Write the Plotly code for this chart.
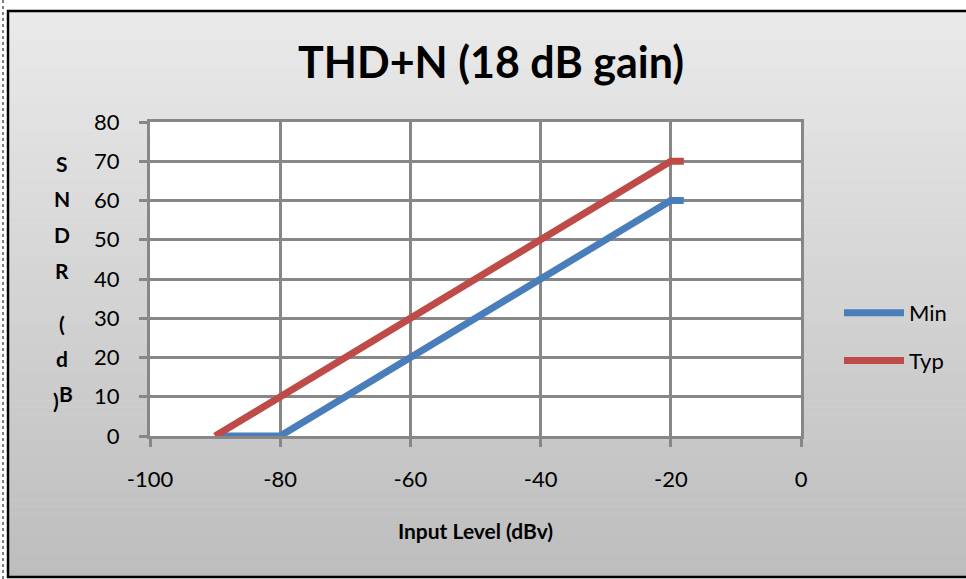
import plotly.graph_objects as go

# ---- data ----
x_min = [-90, -80, -70, -60, -50, -40, -30, -20, -18]
y_min = [0, 0, 10, 20, 30, 40, 50, 60, 60]
x_typ = [-90, -80, -70, -60, -50, -40, -30, -20, -18]
y_typ = [0, 10, 20, 30, 40, 50, 60, 70, 70]
x_ticks = [-100, -80, -60, -40, -20, 0]
y_ticks = [0, 10, 20, 30, 40, 50, 60, 70, 80]
title_text = "THD+N (18 dB gain)"
x_title = "Input Level (dBv)"
y_title_chars = ["S", "N", "D", "R", "(", "d", "B", ")"]

W, H = 966, 579
L, R, T, B = 150, 801, 122, 436
pw, ph = R - L, B - T

def px(xp):
    return (xp - L) / pw

def py(yp):
    return (B - yp) / ph

FONT = "Lato, 'Open Sans', sans-serif"
GRID = "#878787"

fig = go.Figure()
fig.add_trace(go.Scatter(x=x_min, y=y_min, name="Min", mode="lines",
                         line=dict(color="#4a7ebb", width=7),
                         legendgroup="a"))
fig.add_trace(go.Scatter(x=x_typ, y=y_typ, name="Typ", mode="lines",
                         line=dict(color="#be4b48", width=7),
                         legendgroup="b"))

shapes = []
# gradient background (stripes)
n = 80
top, bot = 11, 577
c0, c1 = 234, 189
for i in range(n):
    y0p = top + (bot - top) * i / n
    y1p = top + (bot - top) * (i + 1) / n + 0.5
    c = round(c0 + (c1 - c0) * (i + 0.5) / n)
    shapes.append(dict(type="rect", xref="paper", yref="paper", layer="below",
                       x0=px(8), x1=px(W + 5), y0=py(y0p), y1=py(y1p),
                       fillcolor=f"rgb({c},{c},{c})", line=dict(width=0)))
# white plot area
shapes.append(dict(type="rect", xref="paper", yref="paper", layer="below",
                   x0=0, x1=1, y0=0, y1=1, fillcolor="white", line=dict(width=0)))
# outer black border
shapes.append(dict(type="rect", xref="paper", yref="paper", layer="below",
                   x0=px(8), x1=px(W + 5), y0=py(11), y1=py(577),
                   fillcolor="rgba(0,0,0,0)", line=dict(color="black", width=2.5)))
# dotted edge line
shapes.append(dict(type="line", xref="paper", yref="paper", layer="below",
                   x0=px(3), x1=px(3), y0=py(0), y1=py(H),
                   line=dict(color="#7f7f7f", width=2, dash="dot")))

annotations = []
ypos = [163, 198, 234, 270, 323, 358, 393, 400]
xpos = [62, 62, 62, 62, 62, 62, 66, 56]
for ch, xx, yy in zip(y_title_chars, xpos, ypos):
    annotations.append(dict(text=ch, xref="paper", yref="paper", x=px(xx), y=py(yy),
                            xanchor="center", yanchor="middle", showarrow=False,
                            font=dict(family=FONT, size=21, color="black", weight="bold")))

fig.update_layout(
    width=W, height=H,
    margin=dict(l=L, r=W - R, t=T, b=H - B, pad=0),
    paper_bgcolor="white", plot_bgcolor="white",
    title=dict(text=title_text, xref="container", x=491 / W, xanchor="center",
               yref="container", y=1 - 63 / H, yanchor="middle",
               font=dict(family=FONT, size=43, color="black", weight="bold")),
    font=dict(family=FONT, color="black"),
    xaxis=dict(range=[-100, 0], tickvals=x_ticks, ticktext=[str(v) for v in x_ticks],
               showgrid=True, gridcolor=GRID, gridwidth=3,
               showline=True, linecolor=GRID, linewidth=3, mirror=True,
               ticks="outside", ticklen=8, tickwidth=3, tickcolor=GRID,
               tickfont=dict(size=22, family=FONT, color="black"),
               ticklabelstandoff=14, zeroline=False,
               title=dict(text=x_title, standoff=33,
                          font=dict(size=21, family=FONT, color="black", weight="bold"))),
    yaxis=dict(range=[0, 80], tickvals=y_ticks, ticktext=[str(v) for v in y_ticks],
               showgrid=True, gridcolor=GRID, gridwidth=3,
               showline=True, linecolor=GRID, linewidth=3, mirror=True,
               ticks="outside", ticklen=8, tickwidth=3, tickcolor=GRID,
               tickfont=dict(size=22, family=FONT, color="black"),
               ticklabelstandoff=15, zeroline=False),
    legend=dict(x=px(839), y=py(292), xanchor="left", yanchor="top",
                bgcolor="rgba(0,0,0,0)", traceorder="grouped", tracegroupgap=16,
                itemwidth=60, font=dict(family=FONT, size=22, color="black")),
    shapes=shapes,
    annotations=annotations,
)

fig.write_html("out.html")
